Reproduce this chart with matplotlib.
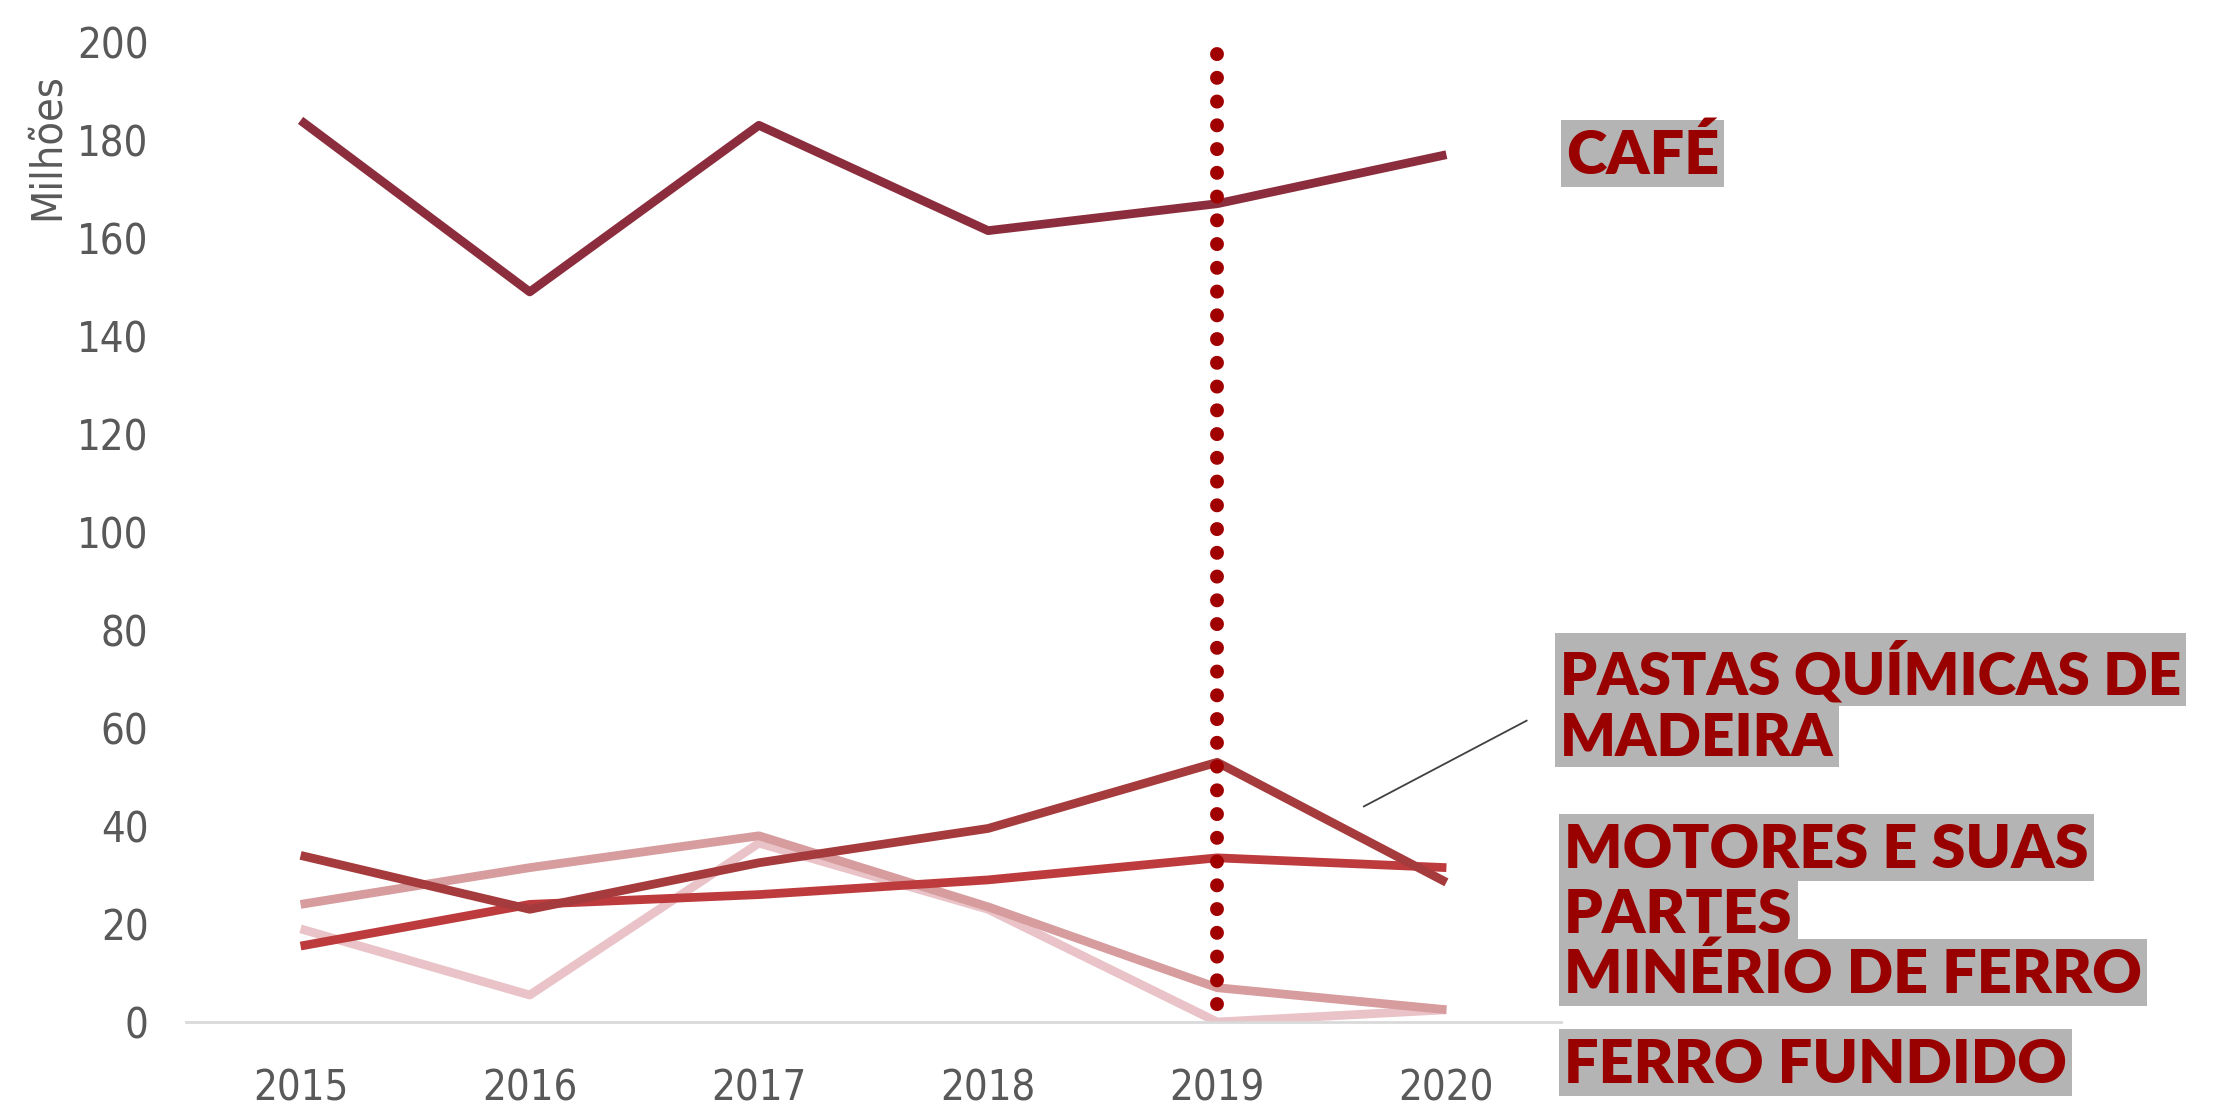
import matplotlib.pyplot as plt
from matplotlib.patches import Rectangle

# Data (milhões)
anos = [2015, 2016, 2017, 2018, 2019, 2020]
cafe = [184, 149, 183, 161.5, 167, 177]
pastas = [34, 23, 32.5, 39.5, 53, 28.5]
motores = [15.5, 24, 26, 29, 33.5, 31.5]
minerio = [24, 31.5, 38, 23.5, 7, 2.5]
ferro_fundido = [19, 5.5, 36.5, 23, 0, 2.5]

series = [
    (ferro_fundido, '#E9C3C7'),
    (minerio, '#D69C9E'),
    (motores, '#BD3B3D'),
    (pastas, '#A53B3D'),
    (cafe, '#8B2D3D'),
]

fig = plt.figure(figsize=(22.13, 11.07), dpi=100)
ax = fig.add_axes([186 / 2213, 1 - 1022 / 1107, (1561 - 186) / 2213, (1022 - 42) / 1107])

for vals, cor in series:
    ax.plot(anos, vals, color=cor, linewidth=6.3, solid_capstyle='butt', solid_joinstyle='round')

# linha pontilhada em 2019 (desenhada de cima para baixo)
ax.plot([2019, 2019], [197.5, -1], color='#A00000', linewidth=10,
        linestyle=(0, (0.01, 1.7)), dash_capstyle='round', zorder=5, clip_on=False)

# linha de chamada para "pastas"
ax.plot([2019.64, 2020.35], [44, 61.5], color='#404040', linewidth=1.3, clip_on=False)

ax.set_xlim(2014.5, 2020.5)
ax.set_ylim(0, 200)
ax.set_xticks(anos)
ax.set_yticks(range(0, 201, 20))
for s in ['top', 'right', 'left']:
    ax.spines[s].set_visible(False)
ax.spines['bottom'].set_color('#D9D9D9')
ax.spines['bottom'].set_linewidth(2)
ax.tick_params(length=0, labelsize=30, labelcolor='#595959')
ax.tick_params(axis='y', pad=27)
ax.tick_params(axis='x', pad=33)
for lbl in ax.get_xticklabels() + ax.get_yticklabels():
    lbl.set_family('DejaVu Sans')
    lbl.set_stretch('condensed')

fig.text(47 / 2213, 1 - 147 / 1107, 'Milhões', rotation=90, ha='center', va='center',
         fontsize=31, color='#595959', family='DejaVu Sans', fontstretch='condensed')

# rótulos à direita
rotulos = [
    ('CAFÉ', 1566, 156, 44),
    ('PASTAS QUÍMICAS DE', 1560, 672, 42),
    ('MADEIRA', 1560, 738, 42),
    ('MOTORES E SUAS', 1564, 850, 44),
    ('PARTES', 1564, 915, 44),
    ('MINÉRIO DE FERRO', 1564, 975, 44),
    ('FERRO FUNDIDO', 1564, 1065, 44),
]
textos = []
for txt, x, y, tam in rotulos:
    t = fig.text(x / 2213, 1 - y / 1107, txt, ha='left', va='center', fontsize=tam,
                 fontweight='heavy', color='#990000', family=['Lato', 'DejaVu Sans'],
                 zorder=3)
    textos.append(t)

# caixas cinzentas por linha
fig.canvas.draw()
r = fig.canvas.get_renderer()
for t in textos:
    bb = t.get_window_extent(r)
    x0, x1 = bb.x0 - 5, bb.x1 + 5
    y0, y1 = bb.y0 - 3, bb.y1 + 8
    fig.patches.append(Rectangle((x0 / 2213, y0 / 1107), (x1 - x0) / 2213, (y1 - y0) / 1107,
                                 transform=fig.transFigure, facecolor='#B4B4B4',
                                 edgecolor='none', zorder=1))

fig.savefig('out.png', dpi=100)
